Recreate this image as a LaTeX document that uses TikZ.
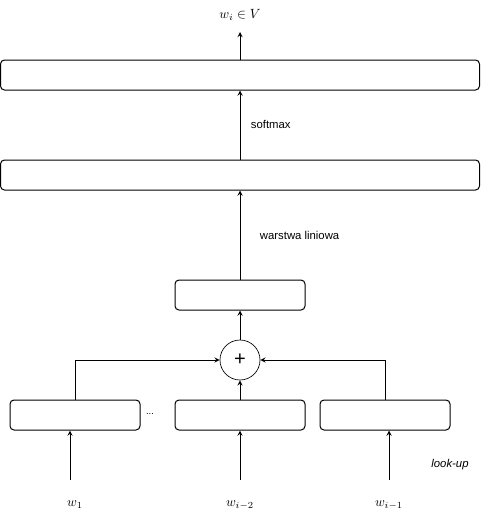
\documentclass[tikz,border=0pt]{standalone}
\usepackage{amsmath,amssymb}
\usepackage{fontspec}
\setmainfont{Liberation Sans}
\usepackage{tikz}
\usetikzlibrary{shapes,arrows,positioning}
\def\boxh{22.5pt}

\begin{document}
\begin{tikzpicture}[x=0.75pt,y=-0.75pt,->,>=stealth,line width=0.75pt,font=\fontsize{8.5}{10}\selectfont]
    \tikzstyle{layer}=[draw,rounded corners=3pt,minimum height=\boxh,inner sep=0pt]
    \tikzstyle{wide layer}=[layer,minimum width=359.25pt]
    \tikzstyle{small layer}=[layer,minimum width=97.5pt]
    \tikzstyle{sum}=[draw,circle,line width=0.5pt,minimum size=30pt,inner sep=0pt]
    \tikzstyle{word}=[inner sep=1pt,font=\normalsize]
    \useasboundingbox (0,0) rectangle (481,525);

    % Layers
    \node[wide layer] (out) at (240,75) {};
    \node[wide layer] (lin) at (240,175) {};
    \node[small layer] (hid) at (240,295) {};
    \node[sum] (add) at (240,360) {\fontsize{15}{15}\selectfont +};

    % Embeddings of the context words
    \foreach \name / \x in {1/75,2/240,3/385}
        \node[small layer] (E-\name) at (\x,415) {};
    \node at (150,414) {\fontsize{7}{8}\selectfont ...};

    % Context words and look-up arrows
    \foreach \name / \x / \word in {1/75/w_1,2/240/w_{i-2},3/389/w_{i-1}}
        \node[word] (W-\name) at (\x,505) {$\word$};
    \foreach \name / \x in {1/70,2/240,3/389}
    {
        \coordinate (C-\name) at (\x,480);
        \draw (C-\name) -- (C-\name |- E-\name.south);
    }

    % Sum and layers above
    \draw (E-1.north) |- (add.west);
    \draw (E-3.north) |- (add.east);
    \draw (E-2.north) -- (add.south);
    \draw (add.north) -- (hid.south);
    \draw (hid.north) -- (lin.south);
    \draw (lin.north) -- (out.south);

    \coordinate (top) at (240,32);
    \draw (out.north) -- (top);
    \node[word] (res) at (240,15) {$w_i \in V$};

    % Annotations
    \node[anchor=west] (sm) at (246,124) {softmax};
    \node[anchor=west] (wl) at (255,235) {warstwa liniowa};
    \node (lu) at (450,465) {\itshape look-up};
\end{tikzpicture}
\end{document}
